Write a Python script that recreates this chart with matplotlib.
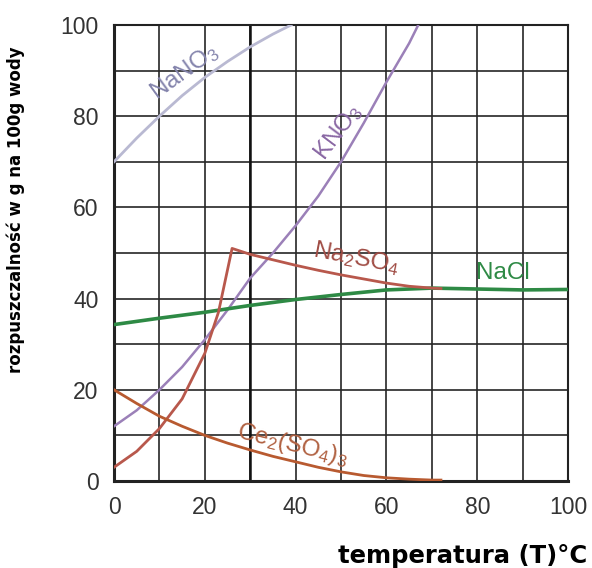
import numpy as np
import matplotlib.pyplot as plt

# ── data ────────────────────────────────────────────────────────────────────
nano3_t = [0, 5, 10, 15, 20, 25, 30, 35, 39]
nano3_s = [70, 75.2, 80, 84.5, 88.5, 92, 95.2, 98, 100]

kno3_t = [0, 5, 10, 15, 20, 25, 30, 35, 40, 45, 50, 55, 60, 65, 67]
kno3_s = [12, 15.5, 20, 25, 31, 37.5, 44.5, 50, 56, 62.5, 70, 78.5, 87.5, 96, 100]

na2so4_t = [0, 5, 10, 15, 20, 23, 26, 30, 35, 40, 45, 50, 55, 60, 65, 70, 72]
na2so4_s = [3, 6.5, 11.5, 18, 28, 37, 51, 49.7, 48.5, 47.3, 46.2, 45.2, 44.3,
            43.4, 42.7, 42.3, 42.2]

nacl_t = [0, 10, 20, 30, 40, 50, 60, 70, 80, 90, 100]
nacl_s = [34.3, 35.7, 37, 38.5, 39.8, 40.9, 41.9, 42.3, 42.1, 41.9, 42]

ce_t = [0, 5, 10, 15, 20, 25, 30, 35, 40, 45, 50, 55, 60, 65, 70, 72]
ce_s = [20, 17, 14.2, 12, 10, 8.3, 6.8, 5.4, 4.2, 3, 2, 1.2, 0.7, 0.4, 0.2, 0.2]

ticks = [0, 20, 40, 60, 80, 100]
grid_steps = np.arange(0, 101, 10)
bold_x = [30]

plt.rcParams['mathtext.fontset'] = 'custom'
plt.rcParams['mathtext.rm'] = 'Liberation Sans'
plt.rcParams['mathtext.it'] = 'Liberation Sans'

fig = plt.figure(figsize=(5.92, 5.68), dpi=100)
ax = fig.add_axes([0.1926, 0.1532, 0.767, 0.8028])

ax.set_xlim(0, 100)
ax.set_ylim(0, 100)
ax.set_xticks(grid_steps, minor=True)
ax.set_yticks(grid_steps, minor=True)
ax.set_xticks(ticks)
ax.set_yticks(ticks)
ax.grid(which='both', color='#262626', lw=1.2)
for x in bold_x:
    ax.axvline(x, color='#111111', lw=1.8, zorder=1)
ax.set_axisbelow(True)
ax.tick_params(which='both', length=0, pad=11, labelsize=16.5, labelcolor='#333333')
for lab in ax.get_xticklabels() + ax.get_yticklabels():
    lab.set_family('Liberation Sans')
for sp in ax.spines.values():
    sp.set_color('#222222')
    sp.set_linewidth(1.5)
ax.spines['bottom'].set_linewidth(2.2)
ax.spines['left'].set_linewidth(2.2)

ax.plot(nano3_t, nano3_s, color='#b9b9d2', lw=2.0, zorder=3)
ax.plot(kno3_t, kno3_s, color='#9b80b8', lw=1.8, zorder=3)
ax.plot(na2so4_t, na2so4_s, color='#b8584c', lw=2.0, zorder=4)
ax.plot(nacl_t, nacl_s, color='#2e8a45', lw=2.6, zorder=3)
ax.plot(ce_t, ce_s, color='#b85a30', lw=2.0, zorder=4)

lab_kw = dict(fontsize=17.5, family='Liberation Sans', ha='center', va='center')
ax.text(15.4, 89.8, '$\\mathrm{NaNO_3}$', color='#8484ac', rotation=36, **lab_kw)
ax.text(49.3, 76.6, '$\\mathrm{KNO_3}$', color='#8a68a4', rotation=53, **lab_kw)
ax.text(53.3, 48.9, '$\\mathrm{Na_2SO_4}$', color='#a04c44', rotation=-11, **lab_kw)
ax.text(85.7, 45.6, 'NaCl', color='#2e8a45', **lab_kw)
ax.text(39.2, 7.9, '$\\mathrm{Ce_2(SO_4)_3}$', color='#b06040', rotation=-14, **lab_kw)

ax.set_ylabel('rozpuszczalność w g na 100g wody', fontsize=12, fontweight='bold',
              family='DejaVu Sans')
ax.yaxis.set_label_coords(-0.195, 0.596)
fig.text(0.992, 0.0, 'temperatura (T)°C', fontsize=17.5, fontweight='bold',
         family='DejaVu Sans', ha='right', va='bottom')

fig.savefig('out.png', dpi=100)
